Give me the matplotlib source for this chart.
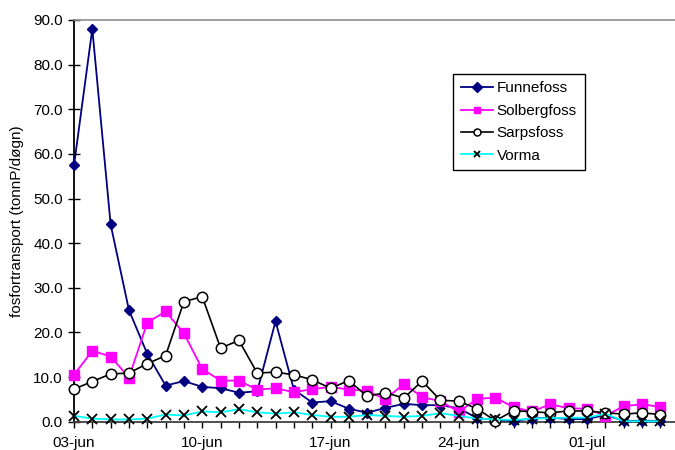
import matplotlib
matplotlib.use("Agg")
import matplotlib.pyplot as plt
from matplotlib.ticker import FixedLocator, MultipleLocator, FormatStrFormatter
import numpy as np

plt.rcParams['font.family'] = ['Liberation Sans', 'DejaVu Sans']

# dager fra 03-jun
dager = np.arange(33)
tick_pos = [0, 7, 14, 21, 28]
tick_labels = ['03-jun', '10-jun', '17-jun', '24-jun', '01-jul']

funnefoss = [57.4, 88.0, 44.2, 25.0, 15.2, 8.1, 9.1, 7.8, 7.5, 6.5, 6.8, 22.5, 7.2,
             4.3, 4.6, 2.9, 2.0, 3.1, 4.0, 3.7, 3.7, 3.0, 0.8, 0.4, 0.2, 0.7, 0.9,
             0.6, 0.6, 1.5, 0.2, 0.2, 0.2]
solbergfoss = [10.5, 15.9, 14.6, 9.9, 22.2, 24.7, 19.8, 11.8, 9.2, 9.2, 7.2, 7.5, 6.6,
               7.3, 7.8, 7.2, 6.9, 5.0, 8.5, 5.5, 4.6, 2.2, 5.1, 5.4, 3.2, 2.3, 3.9,
               3.0, 2.9, 1.3, 3.5, 3.9, 3.3]
sarpsfoss = [7.3, 9.0, 10.7, 10.9, 13.0, 14.8, 26.9, 28.0, 16.5, 18.2, 10.9, 11.1, 10.5,
             9.4, 7.5, 9.2, 5.7, 6.5, 5.3, 9.1, 4.8, 4.6, 2.9, 0.2, 2.5, 2.2, 2.0,
             2.4, 2.4, 2.0, 1.7, 2.0, 1.6]
vorma = [1.3, 0.7, 0.5, 0.5, 0.7, 1.6, 1.4, 2.3, 2.1, 2.8, 2.1, 1.8, 2.1,
         1.5, 1.1, 1.1, 1.5, 1.3, 1.1, 1.3, 1.9, 1.3, 0.7, 0.5, 0.4, 0.7, 0.8,
         0.9, 0.9, 1.8, 0.1, 0.1, 0.1]

fig = plt.figure(figsize=(6.75, 4.5), dpi=100)
ax = fig.add_axes([0.1096, 0.0629, 0.8904, 0.8927])

ax.plot(dager, funnefoss, color='#000080', lw=1.3, marker='D', ms=5.5,
        mfc='#000080', mec='#000080', label='Funnefoss', clip_on=False, zorder=3)
ax.plot(dager, solbergfoss, color='#ff00ff', lw=1.3, marker='s', ms=7,
        mfc='#ff00ff', mec='#ff00ff', label='Solbergfoss', clip_on=False, zorder=3)
ax.plot(dager, sarpsfoss, color='black', lw=1.2, marker='o', ms=7.5,
        mfc='white', mec='black', mew=1.1, label='Sarpsfoss', clip_on=False, zorder=3)
ax.plot(dager, vorma, color='#00ffff', lw=1.3, marker='x', ms=7,
        mec='black', mew=1.3, label='Vorma', clip_on=False, zorder=3)

ax.set_xlim(0, 32.8)
ax.set_ylim(0, 90)
ax.yaxis.set_major_locator(MultipleLocator(10))
ax.yaxis.set_major_formatter(FormatStrFormatter('%.1f'))
ax.xaxis.set_major_locator(FixedLocator(tick_pos))
ax.set_xticklabels(tick_labels)
ax.xaxis.set_minor_locator(MultipleLocator(1))

ax.tick_params(axis='y', direction='inout', length=8, width=1, labelsize=11, pad=4)
ax.tick_params(axis='x', which='both', direction='out', length=4, width=1,
               labelsize=11, pad=6)

ax.spines['right'].set_visible(False)
ax.spines['top'].set_color('#909090')
ax.spines['top'].set_linewidth(1.2)
ax.spines['left'].set_color('black')
ax.spines['left'].set_linewidth(1.3)
ax.spines['bottom'].set_color('#404040')
ax.spines['bottom'].set_linewidth(1.3)

ax.set_ylabel('fosfortransport (tonnP/døgn)', fontsize=11, labelpad=7)

leg = ax.legend(loc='upper left', bbox_to_anchor=(0.631, 0.866), fontsize=11,
                frameon=True, fancybox=False, edgecolor='black', framealpha=1,
                handlelength=2.1, labelspacing=0.55, borderpad=0.5,
                handletextpad=0.25, borderaxespad=0)
leg.get_frame().set_linewidth(1.0)
for h in leg.legend_handles:
    h.set_markersize(5)

fig.savefig('out.png', dpi=100)
